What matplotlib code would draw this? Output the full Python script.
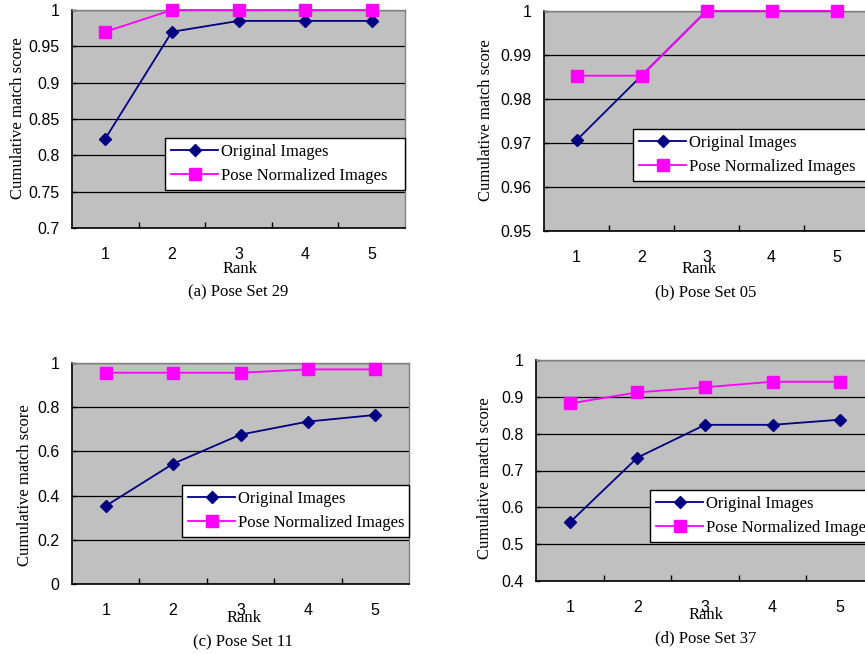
import matplotlib
matplotlib.use("Agg")
import matplotlib.pyplot as plt
import numpy as np

ranks = [1, 2, 3, 4, 5]
rank_labels = ["1", "2", "3", "4", "5"]

orig_29 = [0.823, 0.970, 0.985, 0.985, 0.985]
pose_29 = [0.970, 1.000, 1.000, 1.000, 1.000]
orig_05 = [0.9706, 0.9853, 1.000, 1.000, 1.000]
pose_05 = [0.9853, 0.9853, 1.000, 1.000, 1.000]
orig_11 = [0.353, 0.544, 0.676, 0.735, 0.765]
pose_11 = [0.956, 0.956, 0.956, 0.971, 0.971]
orig_37 = [0.559, 0.735, 0.824, 0.824, 0.838]
pose_37 = [0.882, 0.912, 0.926, 0.941, 0.941]

series_names = ["Original Images", "Pose Normalized Images"]
captions = ["(a) Pose Set 29", "(b) Pose Set 05", "(c) Pose Set 11", "(d) Pose Set 37"]
ylims = [(0.7, 1.0), (0.95, 1.0), (0.0, 1.0), (0.4, 1.0)]
yticks = [np.arange(0.7, 1.001, 0.05), np.arange(0.95, 1.0001, 0.01),
          np.arange(0.0, 1.001, 0.2), np.arange(0.4, 1.001, 0.1)]

W, H = 865, 654
fig = plt.figure(figsize=(W / 100, H / 100), dpi=100)

def fx(px):
    return px / W

def fy(py):
    return 1 - py / H

# axes rectangles in pixels: left, right, top, bottom
rects = [(72, 405, 10, 228), (544, 869, 11, 231), (72, 409, 363, 584), (536, 874, 360, 581)]
legend_box = [(165, 138, 240), (633, 129, 245), (182, 485, 227), (650, 490, 240)]
rank_pos = [(240, 269), (699, 269), (244, 618), (706, 615)]
cap_pos = [(238, 292), (706, 292), (243, 642), (706, 638)]
ylab_pos = [(18, 118), (486, 120), (25, 485), (485, 478)]

data = [(orig_29, pose_29), (orig_05, pose_05), (orig_11, pose_11), (orig_37, pose_37)]

serif = "Liberation Serif"
sans = "Liberation Sans"

for i in range(4):
    l, r, t, b = rects[i]
    ax = fig.add_axes([fx(l), fy(b), (r - l) / W, (b - t) / H])
    ax.set_facecolor("#C0C0C0")
    o, p = data[i]
    ax.plot(ranks, o, color="#000080", marker="D", markersize=6.5, lw=1.3,
            label=series_names[0], zorder=3, clip_on=False)
    ax.plot(ranks, p, color="#FF00FF", marker="s", markersize=8, lw=1.3,
            label=series_names[1], zorder=3, clip_on=False)
    ax.set_xlim(0.5, 5.5)
    ax.set_ylim(*ylims[i])
    ax.set_yticks(yticks[i])
    ax.set_yticklabels([f"{v:g}" for v in np.round(yticks[i], 3)], fontfamily=sans, fontsize=11.5)
    ax.set_xticks(ranks)
    ax.set_xticklabels(rank_labels, fontfamily=sans, fontsize=11.5)
    ax.set_xticks([1.5, 2.5, 3.5, 4.5], minor=True)
    ax.tick_params(axis="x", which="major", length=0, pad=14)
    ax.tick_params(axis="x", which="minor", direction="in", length=4, width=1)
    ax.tick_params(axis="y", direction="in", length=3, width=1, pad=9)
    ax.grid(axis="y", color="black", lw=0.9)
    ax.set_axisbelow(True)
    for s in ["left", "bottom"]:
        ax.spines[s].set_color("black")
        ax.spines[s].set_linewidth(1.2)
    for s in ["top", "right"]:
        ax.spines[s].set_color("#808080")
        ax.spines[s].set_linewidth(1.0)
    lx, ly, lw_ = legend_box[i]
    lh = 52
    leg = ax.legend(loc="upper left",
                    bbox_to_anchor=(fx(lx), fy(ly + lh), lw_ / W, lh / H),
                    bbox_transform=fig.transFigure, borderaxespad=0, mode="expand",
                    prop={"family": serif, "size": 12}, frameon=True,
                    fancybox=False, framealpha=1, edgecolor="black",
                    handlelength=2.85, handletextpad=0.17, labelspacing=0.5,
                    borderpad=0.35)
    leg.get_frame().set_linewidth(1.0)
    rx, ry = rank_pos[i]
    fig.text(fx(rx), fy(ry), "Rank", ha="center", va="center", family=serif, fontsize=12)
    cx, cy = cap_pos[i]
    fig.text(fx(cx), fy(cy), captions[i], ha="center", va="center", family=serif, fontsize=12)
    yx, yy = ylab_pos[i]
    fig.text(fx(yx), fy(yy), "Cumulative match score", ha="center", va="center",
             rotation=90, family=serif, fontsize=12)

fig.savefig("out.png", dpi=100)
